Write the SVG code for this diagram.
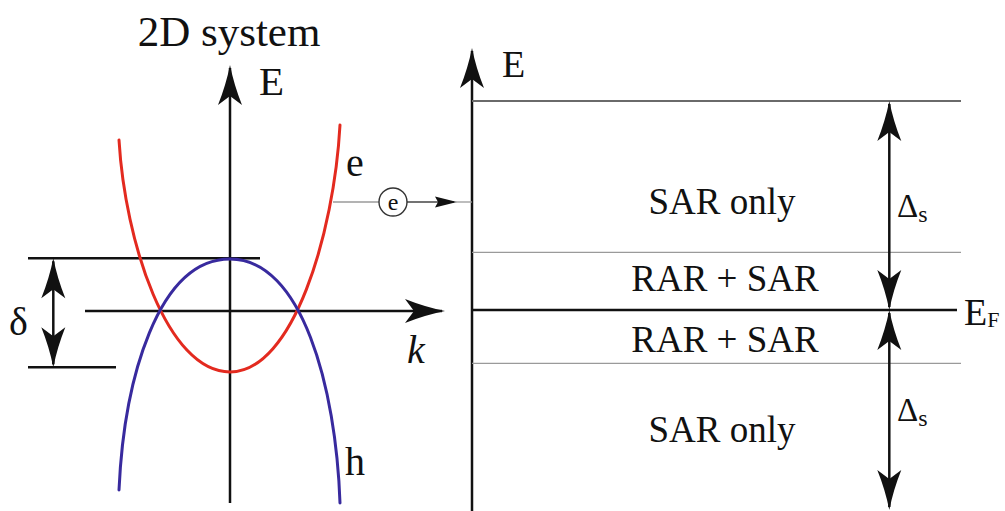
<svg xmlns="http://www.w3.org/2000/svg" width="1005" height="511" viewBox="0 0 1005 511">
<style>
.t{font-family:'Liberation Serif','Times New Roman',Times,'Nimbus Roman','Noto Serif','DejaVu Serif',serif;fill:#111}
.ax{stroke:#111;stroke-width:2.5;fill:none}
.thin{stroke:#9a9a9a;stroke-width:1.3;fill:none}
.lvl{stroke:#6a6a6a;stroke-width:2;fill:none}
.cv{fill:none;stroke-width:3;stroke-linecap:round}
</style>
<defs>
<marker id="ah" viewBox="-42 -14 44 28" refX="-3" refY="0" markerWidth="44" markerHeight="28" orient="auto-start-reverse" markerUnits="userSpaceOnUse">
<path d="M0,0 Q-20,-4 -40,-12 L-31,0 L-40,12 Q-20,4 0,0 Z" fill="#111"/>
</marker>
<marker id="ahs" viewBox="-24 -7 26 14" refX="-3" refY="0" markerWidth="26" markerHeight="14" orient="auto" markerUnits="userSpaceOnUse">
<path d="M0,0 L-22,-5.5 L-19,0 L-22,5.5 Z" fill="#111"/>
</marker>
</defs>
<rect width="1005" height="511" fill="#fff"/>
<text class="t" x="229" y="46" font-size="43" text-anchor="middle">2D system</text>
<g id="connectors">
<line class="ax" x1="230" y1="503" x2="230" y2="68" marker-end="url(#ah)"/>
<line class="ax" x1="85" y1="311" x2="442" y2="311" marker-end="url(#ah)"/>
<line class="ax" x1="28" y1="258.3" x2="260" y2="258.3"/>
<line class="ax" x1="28" y1="367.3" x2="116" y2="367.3"/>
<line class="ax" stroke-width="2" x1="53.3" y1="261.3" x2="53.3" y2="364.3" marker-start="url(#ah)" marker-end="url(#ah)"/>
<line class="ax" stroke-width="2.2" x1="472" y1="511" x2="472" y2="51" marker-end="url(#ah)"/>
<line class="lvl" x1="472" y1="101" x2="961" y2="101"/>
<line class="thin" x1="472" y1="252.3" x2="961" y2="252.3"/>
<line class="ax" stroke-width="2.2" x1="472" y1="310" x2="957" y2="310"/>
<line class="thin" x1="472" y1="363.3" x2="961" y2="363.3"/>
<line class="ax" stroke-width="2" x1="889.3" y1="104" x2="889.3" y2="307" marker-start="url(#ah)" marker-end="url(#ah)"/>
<line class="ax" stroke-width="2" x1="889.3" y1="313" x2="889.3" y2="507" marker-start="url(#ah)" marker-end="url(#ah)"/>
<line class="thin" x1="333" y1="202" x2="379" y2="202"/>
<line stroke="#444" stroke-width="1.6" x1="407" y1="202" x2="454" y2="202" marker-end="url(#ahs)"/>
<line class="thin" x1="455" y1="202" x2="472" y2="202"/>
</g>
<g id="band-e">
<path class="cv" stroke="#e32a1f" d="M119,140 C125,242 167,372 230,372 C293,372 334,234 340,125"/>
<text class="t" x="346" y="176" font-size="40">e</text>
</g>
<g id="band-h">
<path class="cv" stroke="#382a9e" d="M119,490 C124,379 158,259 230,259 C302,259 336,387 340,503"/>
<text class="t" x="345" y="475" font-size="40">h</text>
</g>
<g id="axis-labels">
<text class="t" x="259" y="95" font-size="41">E</text>
<text class="t" x="407" y="363" font-size="40" font-style="italic">k</text>
<text class="t" x="9" y="335" font-size="40">δ</text>
<text class="t" x="502" y="77" font-size="38">E</text>
<text class="t" x="964" y="325" font-size="38">E<tspan font-size="22" dy="2">F</tspan></text>
</g>
<g id="electron">
<circle cx="393" cy="202" r="14" fill="#fff" stroke="#333" stroke-width="1.4"/>
<text class="t" x="393" y="209.5" font-size="24" text-anchor="middle">e</text>
</g>
<g id="region-sar-top"><text class="t" x="722" y="214" font-size="37" text-anchor="middle">SAR only</text></g>
<g id="region-rar-top"><text class="t" x="725" y="291" font-size="37" text-anchor="middle">RAR + SAR</text></g>
<g id="region-rar-bottom"><text class="t" x="725" y="352" font-size="37" text-anchor="middle">RAR + SAR</text></g>
<g id="region-sar-bottom"><text class="t" x="722" y="442" font-size="37" text-anchor="middle">SAR only</text></g>
<g id="gap-labels">
<text class="t" x="897" y="217" font-size="33">Δ<tspan font-size="24" dy="5">s</tspan></text>
<text class="t" x="897" y="421" font-size="33">Δ<tspan font-size="24" dy="5">s</tspan></text>
</g>
</svg>
